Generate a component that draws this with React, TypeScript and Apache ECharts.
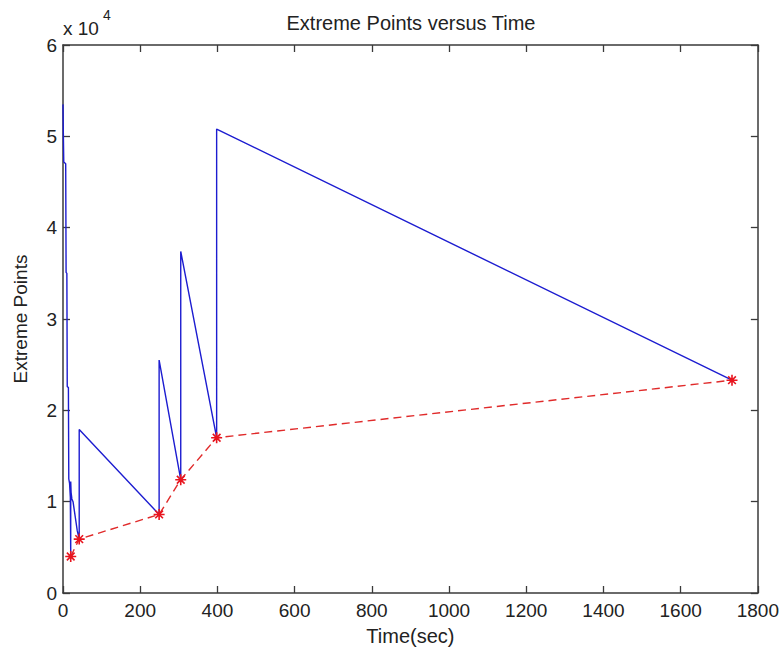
import React, { useEffect, useRef } from "react";
import * as echarts from "echarts";

const blueTime = [0, 1, 2, 7, 8, 10, 11, 14, 15, 17, 19, 20, 20, 21, 23, 26, 37, 42, 42, 249, 249, 305, 305, 398, 398, 1733];
const blueValue = [53500, 50000, 47200, 47000, 35100, 35000, 22600, 22500, 12500, 12000, 10500, 4000, 12200, 11000, 10300, 10000, 6800, 5900, 17900, 8600, 25500, 12400, 37400, 17000, 50800, 23300];
const redTime = [20, 42, 249, 305, 398, 1733];
const redValue = [4000, 5900, 8600, 12400, 17000, 23300];

const title = "Extreme Points versus Time";
const xName = "Time(sec)";
const yName = "Extreme Points";

const FONT = "Liberation Sans";
const TXT = "#222";
const AX = "#3a3a3a";

const asterisk =
  "path://M0,-10L0,10M-10,0L10,0M-7,-7L7,7M-7,7L7,-7";

export default function App() {
  const ref = useRef<HTMLDivElement>(null);
  useEffect(() => {
    document.body.style.margin = "0";
    const chart = echarts.init(ref.current!, null, { renderer: "svg" });
    const blue = blueTime.map((t, i) => [t, blueValue[i]]);
    const red = redTime.map((t, i) => [t, redValue[i]]);
    const axisCommon = {
      min: 0,
      axisLine: { show: true, onZero: false, lineStyle: { color: AX, width: 1.5 } },
      axisTick: { show: true, inside: true, length: 7, lineStyle: { color: AX, width: 1.3 } },
      splitLine: { show: false },
    };
    chart.setOption({
      animation: false,
      backgroundColor: "#fff",
      textStyle: { fontFamily: FONT },
      title: {
        text: title,
        left: 406,
        textAlign: "center",
        top: 8,
        textStyle: { fontFamily: FONT, fontSize: 20, fontWeight: "normal", color: TXT },
      },
      graphic: [
        { type: "text", left: 63, top: 19, style: { text: "x 10", font: `19px '${FONT}'`, fill: TXT } },
        { type: "text", left: 103, top: 8, style: { text: "4", font: `14px '${FONT}'`, fill: TXT } },
      ],
      grid: { left: 63, right: 22, top: 45, bottom: 59 },
      xAxis: [
        {
          ...axisCommon,
          type: "value",
          max: 1800,
          interval: 200,
          position: "bottom",
          name: xName,
          nameLocation: "middle",
          nameGap: 33,
          nameTextStyle: { fontFamily: FONT, fontSize: 20, color: TXT },
          axisLabel: { fontFamily: FONT, fontSize: 19, color: TXT, margin: 8, formatter: (v: number) => String(v) },
        },
        {
          ...axisCommon,
          type: "value",
          max: 1800,
          interval: 200,
          position: "top",
          axisLabel: { show: false },
        },
      ],
      yAxis: [
        {
          ...axisCommon,
          type: "value",
          max: 60000,
          interval: 10000,
          position: "left",
          name: yName,
          nameLocation: "middle",
          nameGap: 33,
          nameRotate: 90,
          nameTextStyle: { fontFamily: FONT, fontSize: 19, color: TXT },
          axisLabel: {
            fontFamily: FONT,
            fontSize: 19,
            color: TXT,
            margin: 6,
            formatter: (v: number) => String(v / 10000),
          },
        },
        {
          ...axisCommon,
          type: "value",
          max: 60000,
          interval: 10000,
          position: "right",
          axisLabel: { show: false },
        },
      ],
      series: [
        {
          type: "line",
          data: blue,
          showSymbol: false,
          symbol: "none",
          lineStyle: { color: "#1c1cd0", width: 1.4 },
          z: 2,
        },
        {
          type: "line",
          data: red,
          symbol: asterisk,
          symbolSize: 11,
          showSymbol: true,
          itemStyle: { color: "rgba(0,0,0,0)", borderColor: "#e8141e", borderWidth: 1.6 },
          lineStyle: { color: "#e02a2a", width: 1.4, type: [8, 5] },
          z: 3,
        },
      ],
    });
    return () => chart.dispose();
  }, []);
  return <div ref={ref} style={{ width: 782, height: 652 }} />;
}
